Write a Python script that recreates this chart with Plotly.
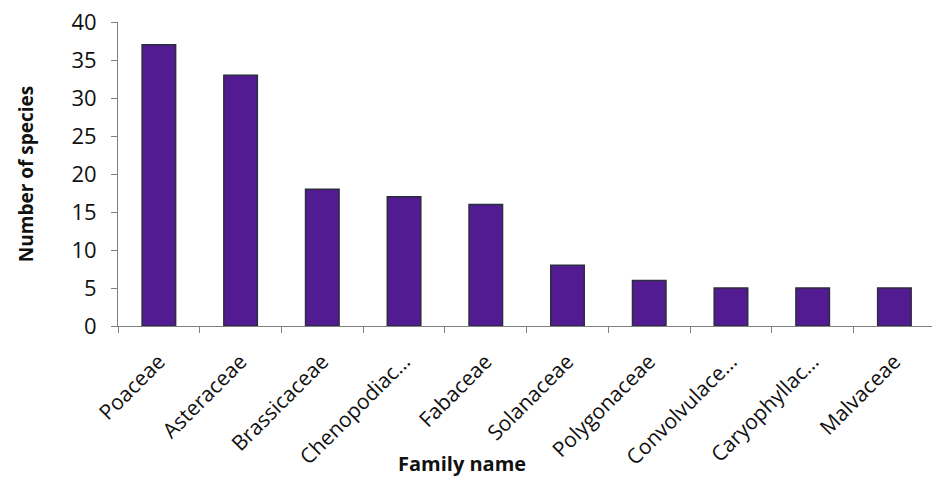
import plotly.graph_objects as go

families = ["Poaceae", "Asteraceae", "Brassicaceae", "Chenopodiac…", "Fabaceae",
            "Solanaceae", "Polygonaceae", "Convolvulace…", "Caryophyllac…", "Malvaceae"]
species = [37, 33, 18, 17, 16, 8, 6, 5, 5, 5]
y_ticks = [0, 5, 10, 15, 20, 25, 30, 35, 40]

FONT = "Open Sans, Lato, sans-serif"

fig = go.Figure(go.Bar(
    x=families, y=species,
    marker=dict(color="#521b92", line=dict(color="#2b2d3c", width=1.5)),
))

fig.update_layout(
    width=932, height=479,
    margin=dict(l=118, r=0, t=22, b=153),
    paper_bgcolor="white", plot_bgcolor="white",
    bargap=0.59,
    showlegend=False,
    font=dict(family=FONT, color="#111111"),
)
fig.update_xaxes(
    automargin=False,
    range=[-0.5, 9.46],
    tickangle=-45,
    tickfont=dict(size=21, family=FONT),
    ticklabelstandoff=14,
    showline=True, linecolor="#808080", linewidth=1,
    ticks="outside", ticklen=6, tickcolor="#808080", tickson="boundaries",
    showgrid=False,
)
fig.add_annotation(
    text="<b>Family name</b>", xref="paper", yref="paper",
    x=0.4226, y=-0.452, xanchor="center", yanchor="middle",
    showarrow=False, font=dict(size=20, family=FONT, color="#111111"),
    borderpad=0,
)
fig.update_yaxes(
    automargin=False,
    range=[0, 40], tickvals=y_ticks,
    tickfont=dict(size=22, family=FONT),
    ticklabelstandoff=10,
    showline=True, linecolor="#808080", linewidth=1,
    ticks="outside", ticklen=6, tickcolor="#808080",
    showgrid=False, zeroline=False,
    title=dict(text="<b>Number of species</b>", font=dict(size=19, family=FONT), standoff=32),
)

fig.write_html("out.html")
